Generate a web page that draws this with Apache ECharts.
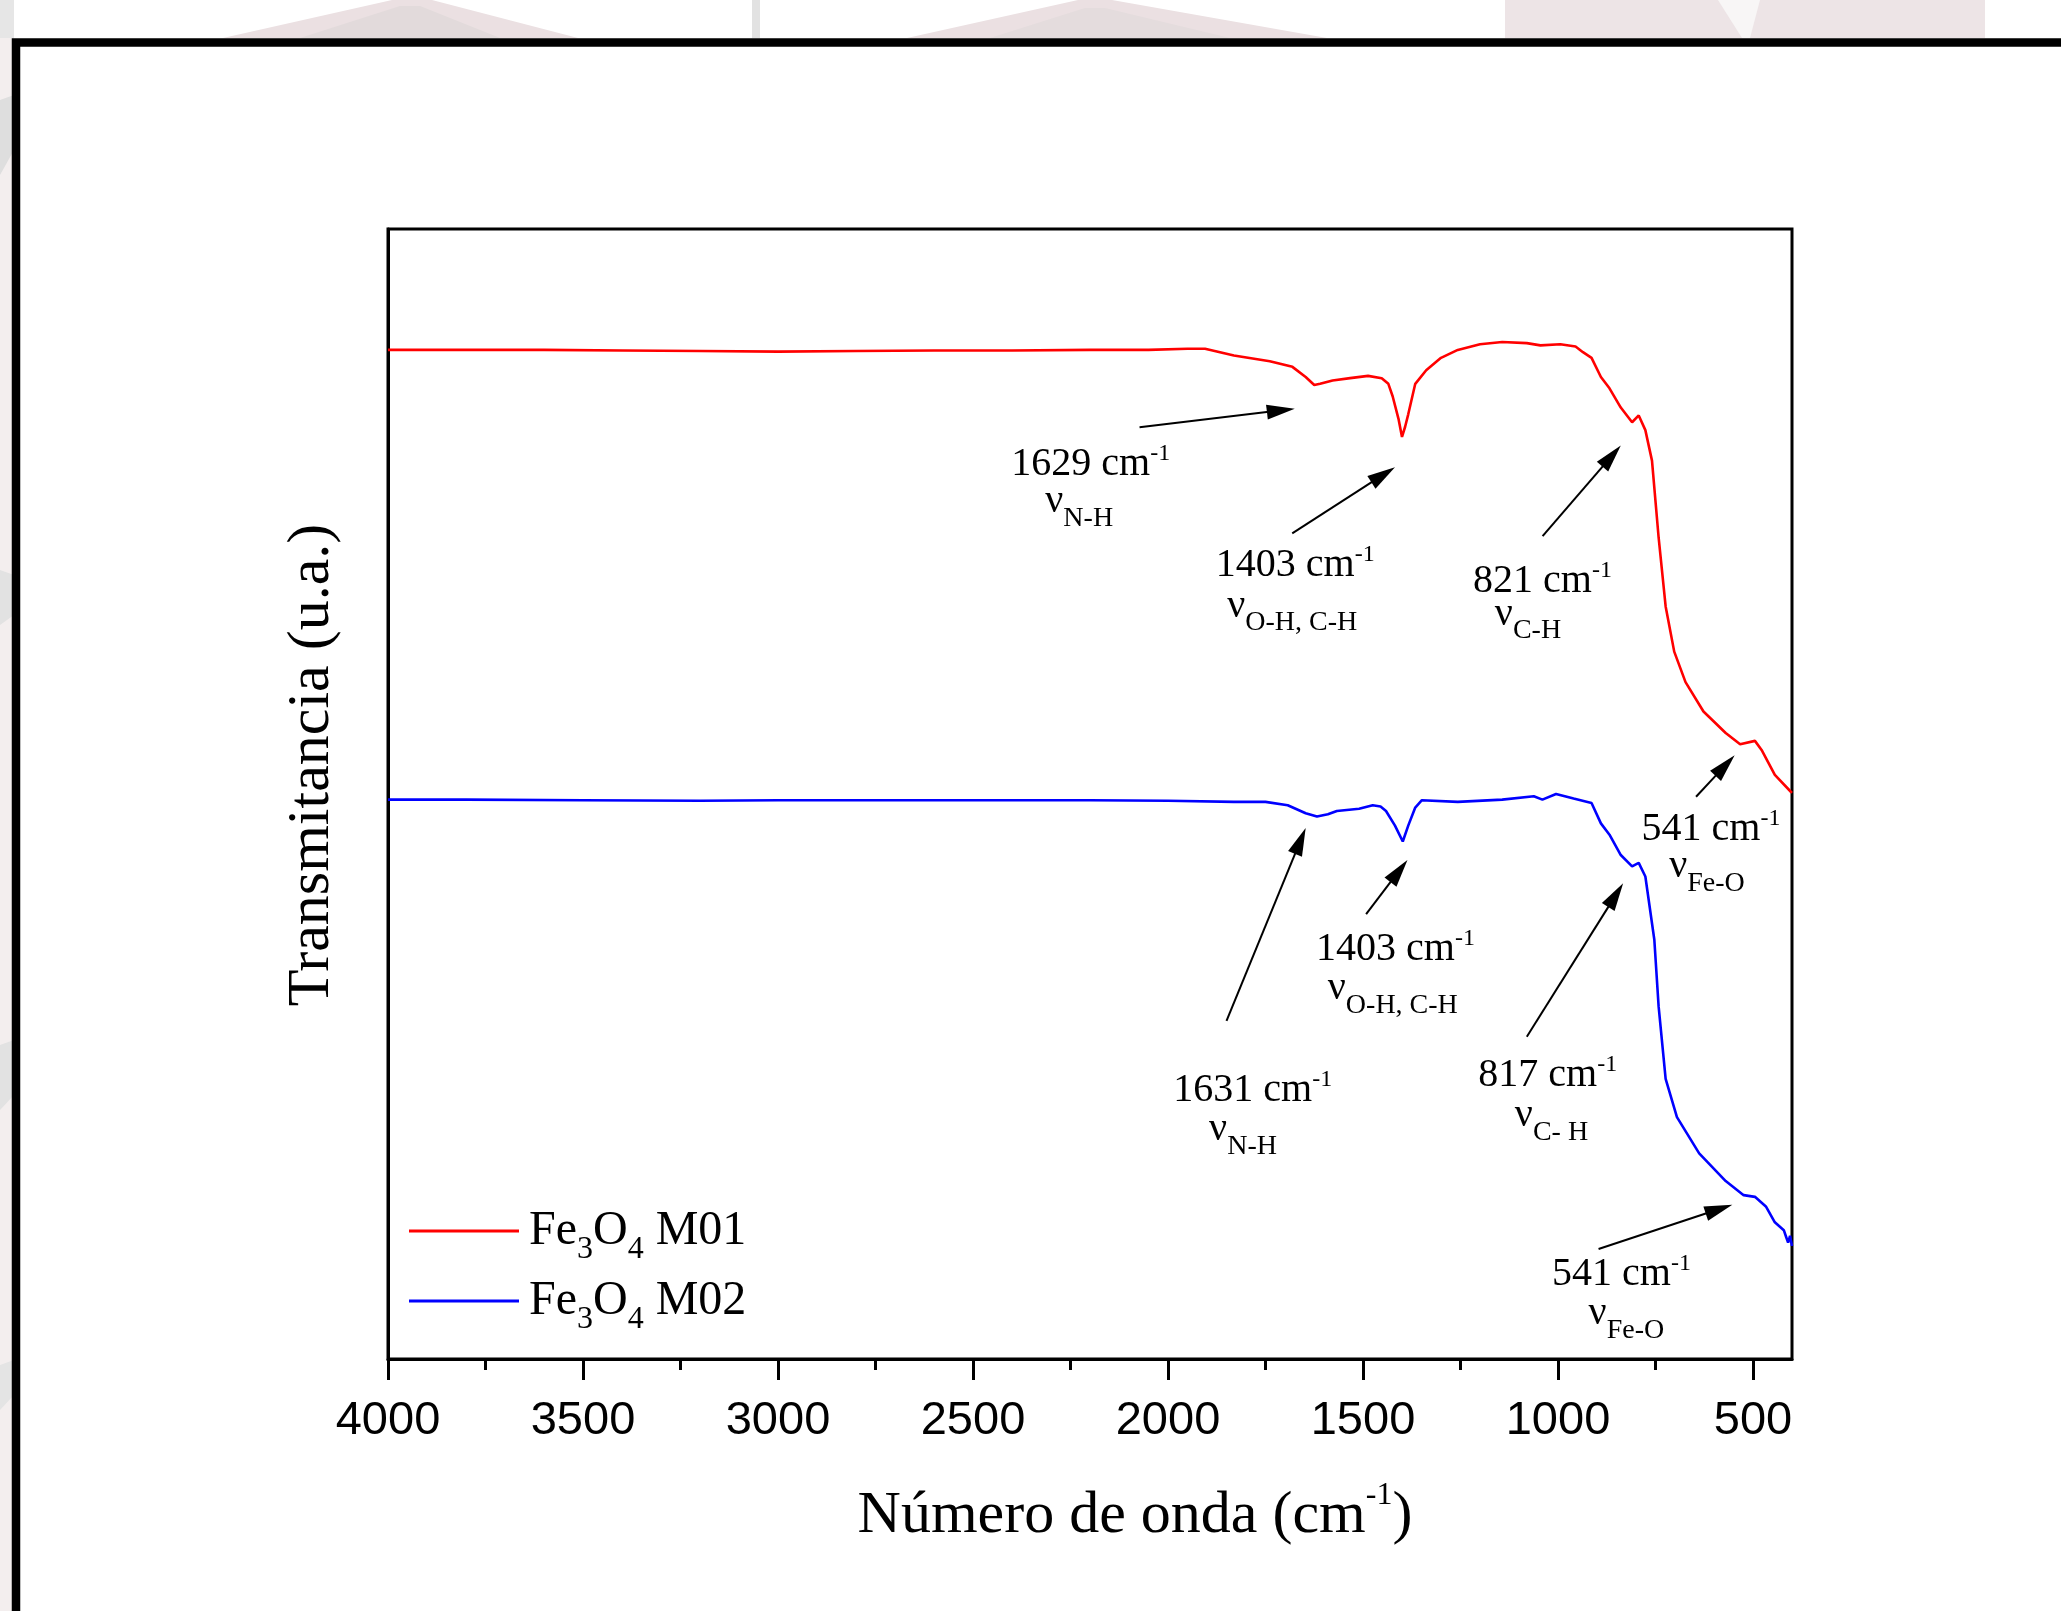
<!DOCTYPE html>
<html><head><meta charset="utf-8">
<script src="https://cdn.jsdelivr.net/npm/echarts@6/dist/echarts.min.js"></script>
<style>html,body{margin:0;padding:0;background:#fff;overflow:hidden}#c{width:2061px;height:1611px}</style>
</head><body><div id="c"></div><script>
// ---- data ----
const seriesNames = ['Fe3O4 M01', 'Fe3O4 M02'];
const wnRed = [4000,3800,3600,3400,3200,3000,2800,2600,2400,2200,2050,1950,1905,1831,1739,1681,1647,1625,1610,1578,1533,1487,1452,1435,1424,1409,1400,1392,1384,1366,1338,1300,1257,1200,1143,1080,1045,994,955,936,914,890,868,839,810,793,776,759,742,724,702,673,627,570,533,495,478,444,403,400];
const tRed = [89.3,89.3,89.3,89.25,89.2,89.15,89.2,89.25,89.25,89.3,89.3,89.4,89.4,88.8,88.3,87.8,86.9,86.2,86.3,86.6,86.8,87.0,86.8,86.3,85.2,83.2,81.6,82.5,83.6,86.3,87.5,88.6,89.3,89.8,90.0,89.9,89.7,89.8,89.6,89.1,88.6,86.9,85.9,84.2,82.9,83.5,82.2,79.5,72.7,66.6,62.6,59.9,57.3,55.4,54.4,54.7,53.9,51.7,50.2,50.1];
const wnBlue = [4000,3800,3500,3200,3000,2800,2500,2200,2000,1831,1750,1693,1647,1618,1590,1567,1510,1475,1455,1441,1418,1398,1384,1366,1349,1257,1143,1062,1040,1005,960,914,890,868,839,810,793,776,753,742,724,695,638,570,524,495,467,444,421,415,410,405,400];
const tBlue = [49.5,49.5,49.45,49.4,49.45,49.45,49.45,49.45,49.4,49.3,49.3,49.0,48.3,48.0,48.2,48.5,48.7,49.0,48.9,48.5,47.2,45.8,47.2,48.8,49.45,49.3,49.5,49.8,49.5,50.0,49.6,49.2,47.4,46.4,44.6,43.6,43.9,42.7,37.1,31.2,24.8,21.4,18.2,15.75,14.5,14.35,13.5,12.1,11.4,10.8,10.3,10.9,10.0];
const majorTicks = [4000,3500,3000,2500,2000,1500,1000,500];
const minorTicks = [3750,3250,2750,2250,1750,1250,750];
// annotations (data coordinates: [wavenumber, transmittance])
const annoPeaks = ['1629','1403','821','541','1631','1403','817','541'];
const annoBonds = ['N-H','O-H, C-H','C-H','Fe-O','N-H','O-H, C-H','C- H','Fe-O'];
const arrowFrom = [[2073,82.46],[1681.5,73.06],[1039.5,72.82],[646,49.76],[1850,29.92],[1492,39.37],[1080,28.52],[896,9.73]];
const arrowTo   = [[1675,84.09],[1418,78.92],[839,80.85],[547,53.42],[1647,47.0],[1386,44.17],[833,42.1],[553,13.65]];
const peakLabelAt = [[2198,79.49],[1673.6,70.59],[1039.8,69.17],[607.7,47.17],[1782.8,24.12],[1416.7,36.61],[1026.4,25.42],[837.2,7.79]];
const bondLabelAt = [[2227.7,76.24],[1681.5,66.99],[1076.9,66.28],[618,43.94],[1807.7,20.62],[1423.6,33.12],[1016.7,21.86],[824.6,4.35]];

const SERIF = '"Liberation Serif","Times New Roman",serif';
const SANS = '"Liberation Sans",Arial,sans-serif';

const chart = echarts.init(document.getElementById('c'), null, {renderer: 'canvas'});

const zip = (xs, ys) => xs.map((x, i) => [x, ys[i]]);

const decor = [
  {type:'rect', shape:{x:0,y:0,width:14,height:1611}, style:{fill:'#f3eeee'}, z:-10},
  {type:'polygon', shape:{points:[[223,38],[392,0],[432,0],[578,38]]}, style:{fill:'#ebe0e2'}, z:-9},
  {type:'polygon', shape:{points:[[300,38],[400,6],[420,6],[500,38]]}, style:{fill:'#e2dadb'}, z:-9},
  {type:'rect', shape:{x:752,y:0,width:8,height:38}, style:{fill:'#e2e2e2'}, z:-9},
  {type:'polygon', shape:{points:[[907,38],[1078,0],[1112,0],[1327,38]]}, style:{fill:'#ebe0e2'}, z:-9},
  {type:'polygon', shape:{points:[[990,38],[1085,8],[1105,8],[1230,38]]}, style:{fill:'#e4dcdd'}, z:-9},
  {type:'rect', shape:{x:1505,y:0,width:480,height:38}, style:{fill:'#ede4e6'}, z:-9},
  {type:'polygon', shape:{points:[[1718,0],[1760,0],[1750,38],[1742,38]]}, style:{fill:'#f8f6f6'}, z:-8},
  {type:'rect', shape:{x:0,y:0,width:14,height:38}, style:{fill:'#e6e6e6'}, z:-9},
  {type:'polygon', shape:{points:[[0,100],[14,95],[14,150],[0,175]]}, style:{fill:'#dedede'}, z:-9},
  {type:'polygon', shape:{points:[[0,570],[14,575],[14,615],[0,625]]}, style:{fill:'#e2e2e2'}, z:-9},
  {type:'polygon', shape:{points:[[0,1045],[14,1040],[14,1095],[0,1110]]}, style:{fill:'#e2e2e2'}, z:-9},
  {type:'polygon', shape:{points:[[0,1365],[14,1360],[14,1395],[0,1410]]}, style:{fill:'#e4e4e4'}, z:-9},
  {type:'rect', shape:{x:16,y:42.5,width:2200,height:1700}, style:{fill:'none', stroke:'#000', lineWidth:8.5}, z:5}
];

chart.setOption({
  animation: false,
  backgroundColor: '#fff',
  grid: {left: 388, right: 269, top: 229, bottom: 252, show: true, borderColor: '#000', borderWidth: 3, backgroundColor: 'transparent'},
  xAxis: [{
    type: 'value', min: 400, max: 4000, inverse: true, position: 'bottom',
    axisLine: {show: true, onZero: false, lineStyle: {color: '#000', width: 3}},
    axisTick: {show: true, inside: false, length: 21, customValues: majorTicks, lineStyle: {color: '#000', width: 3}},
    axisLabel: {show: true, customValues: majorTicks, margin: 39, fontSize: 47, fontFamily: SANS, color: '#000',
      formatter: (v) => String(v)},
    splitLine: {show: false}
  }, {
    type: 'value', min: 400, max: 4000, inverse: true, position: 'bottom', gridIndex: 0,
    axisLine: {show: false, onZero: false},
    axisTick: {show: true, inside: false, length: 11, customValues: minorTicks, lineStyle: {color: '#000', width: 3}},
    axisLabel: {show: false},
    splitLine: {show: false}
  }],
  yAxis: {
    type: 'value', min: 0, max: 100,
    axisLine: {show: true, lineStyle: {color: '#000', width: 3}},
    axisTick: {show: false}, axisLabel: {show: false}, splitLine: {show: false}
  },
  legend: {
    orient: 'vertical', left: 409, top: 1207, padding: 0, itemGap: 11.6,
    itemWidth: 110, itemHeight: 3, icon: 'rect',
    data: seriesNames,
    formatter: (n) => '{gap|}' + n.replace('Fe3O4', 'Fe{sub|3}O{sub|4}'),
    textStyle: {fontFamily: SERIF, fontSize: 48, color: '#000',
      rich: {gap: {width: 5}, sub: {fontFamily: SERIF, fontSize: 32, color: '#000', padding: [37, 0, 0, 0]}}}
  },
  series: [
    {name: seriesNames[0], type: 'line', data: zip(wnRed, tRed), showSymbol: false, silent: true,
      lineStyle: {color: '#ff0000', width: 2.6}, itemStyle: {color: '#ff0000'}},
    {name: seriesNames[1], type: 'line', data: zip(wnBlue, tBlue), showSymbol: false, silent: true,
      lineStyle: {color: '#0000ff', width: 2.6}, itemStyle: {color: '#0000ff'}}
  ],
  graphic: decor
});

// annotations positioned through the axes' own scales
const toPx = (p) => chart.convertToPixel({xAxisIndex: 0, yAxisIndex: 0}, p);
const TXT_DY = 4;
const extra = [];
for (let i = 0; i < annoPeaks.length; i++) {
  const a = toPx(arrowFrom[i]), b = toPx(arrowTo[i]);
  const dx = b[0] - a[0], dy = b[1] - a[1], L = Math.hypot(dx, dy);
  const ux = dx / L, uy = dy / L, headL = 28, headW = 7.5;
  const bx = b[0] - ux * headL, by = b[1] - uy * headL;
  extra.push({type: 'polyline', shape: {points: [a, [bx + ux * 4, by + uy * 4]]}, style: {stroke: '#000', lineWidth: 2, fill: null}, z: 10});
  extra.push({type: 'polygon', shape: {points: [b, [bx - uy * headW, by + ux * headW], [bx + uy * headW, by - ux * headW]]}, style: {fill: '#000'}, z: 10});
  const t = toPx(peakLabelAt[i]);
  extra.push({type: 'text', x: t[0], y: t[1] + TXT_DY, z: 10, style: {
    text: annoPeaks[i] + ' cm{sup|-1}', fontFamily: SERIF, fontSize: 40, fill: '#000', align: 'center', verticalAlign: 'middle',
    rich: {sup: {fontFamily: SERIF, fontSize: 24, fill: '#000', padding: [0, 0, 22, 0]}}}});
  const u = toPx(bondLabelAt[i]);
  extra.push({type: 'text', x: u[0], y: u[1] + TXT_DY, z: 10, style: {
    text: '\u03bd{sub|' + annoBonds[i] + '}', fontFamily: SERIF, fontSize: 40, fill: '#000', align: 'center', verticalAlign: 'middle',
    rich: {sub: {fontFamily: SERIF, fontSize: 28, fill: '#000', padding: [34, 0, 0, 0]}}}});
}
// axis titles
extra.push({type: 'text', x: 1135, y: 1516, z: 10, style: {
  text: 'N\u00famero de onda (cm{sup|-1})', fontFamily: SERIF, fontSize: 60, fill: '#000', align: 'center', verticalAlign: 'middle',
  rich: {sup: {fontFamily: SERIF, fontSize: 32, fill: '#000', padding: [0, 0, 41, 0]}}}});
extra.push({type: 'text', x: 312, y: 765, rotation: Math.PI / 2, z: 10, style: {
  text: 'Transmitancia (u.a.)', fontFamily: SERIF, fontSize: 60, fill: '#000', align: 'center', verticalAlign: 'middle'}});

chart.setOption({graphic: decor.concat(extra)});
</script></body></html>
